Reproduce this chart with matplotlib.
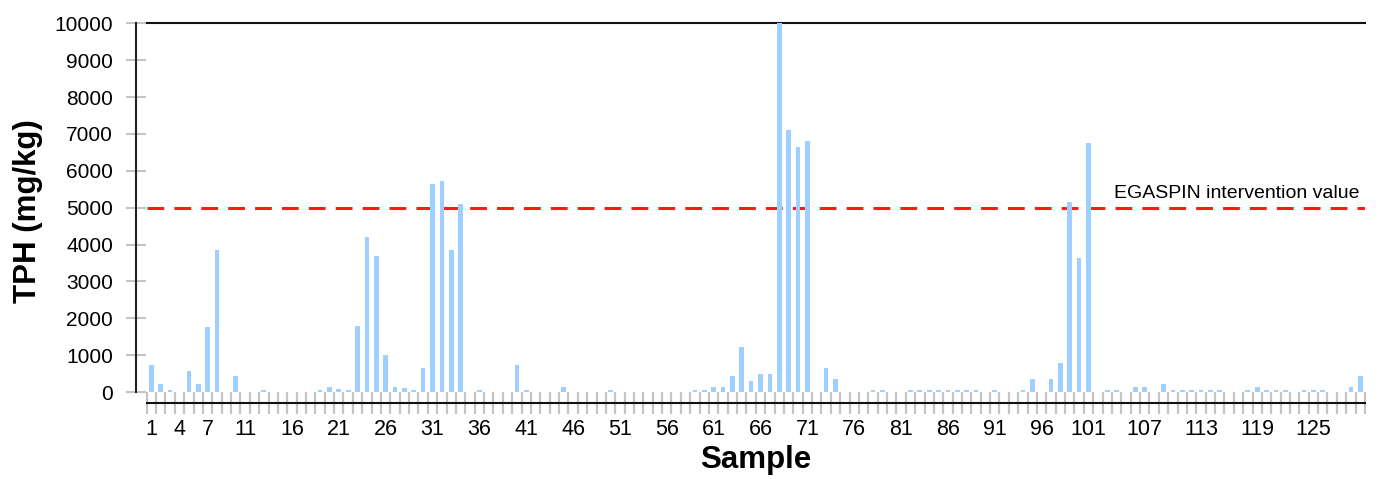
import numpy as np
import matplotlib
matplotlib.use("Agg")
import matplotlib.pyplot as plt
from matplotlib.ticker import FixedLocator

plt.rcParams["font.family"] = ["Liberation Sans", "DejaVu Sans"]

# TPH per sample (mg/kg)
samples = np.arange(1, 131)
tph = [
    720, 220, 60, 0, 580, 220, 1750, 3850, 0, 430,
    0, 0, 60, 0, 0, 0, 0, 0, 60, 130,
    70, 50, 1800, 4200, 3700, 1000, 140, 120, 60, 640,
    5650, 5730, 3850, 5100, 0, 45, 0, 0, 0, 720,
    50, 0, 0, 0, 140, 0, 0, 0, 0, 60,
    0, 0, 0, 0, 0, 0, 0, 0, 60, 60,
    130, 140, 430, 1220, 300, 500, 500, 10000, 7100, 6650,
    6800, 0, 650, 360, 0, 0, 0, 50, 50, 0,
    0, 50, 60, 60, 60, 50, 60, 50, 50, 0,
    50, 0, 0, 60, 350, 0, 350, 790, 5160, 3640,
    6740, 0, 50, 50, 0, 140, 130, 0, 210, 60,
    60, 60, 60, 60, 60, 0, 0, 60, 140, 60,
    50, 50, 0, 60, 50, 50, 0, 0, 140, 430,
]
label_samples = [1, 4, 7, 11, 16, 21, 26, 31, 36, 41, 46, 51, 56, 61, 66,
                 71, 76, 81, 86, 91, 96, 101, 107, 113, 119, 125]
y_ticks = list(range(0, 10001, 1000))
egaspin = 5000

BAR = "#9fcfff"
TICK = "#c4c4c4"

fig = plt.figure(figsize=(13.8, 4.79), dpi=100)
ax = fig.add_axes([0.1063, 0.1816, 0.8828, 0.7698])

ax.bar(samples, tph, width=0.5, color=BAR, zorder=3)
ax.axhline(egaspin, color="#ff1a1a", lw=2.2, dashes=(5.5, 3.3), zorder=2)
ax.text(129.9, egaspin + 160, "EGASPIN intervention value", ha="right",
        va="bottom", fontsize=14, color="#000")

ax.set_xlim(0.5, 130.5)
ax.set_ylim(0, 10000)

ax.spines["right"].set_visible(False)
ax.spines["top"].set_color("#111")
ax.spines["top"].set_linewidth(1.5)
ax.spines["left"].set_position(("outward", 7.5))
ax.spines["left"].set_color("#222")
ax.spines["left"].set_linewidth(1.5)
ax.spines["bottom"].set_position(("outward", 8))
ax.spines["bottom"].set_color("#111")
ax.spines["bottom"].set_linewidth(1.5)

ax.set_yticks(y_ticks)
ax.tick_params(axis="y", direction="inout", length=14.4, width=1.5,
               color=TICK, labelsize=15, pad=9.5)

ax.xaxis.set_major_locator(FixedLocator(label_samples))
ax.xaxis.set_minor_locator(FixedLocator(np.arange(0.5, 131, 1.0)))
ax.tick_params(axis="x", which="major", length=0, labelsize=15.5, pad=11.5)
ax.tick_params(axis="x", which="minor", direction="inout", length=16.5,
               width=1.6, color=TICK)

ax.set_ylabel("TPH (mg/kg)", fontsize=22.5, fontweight="bold")
ax.yaxis.set_label_coords(-0.085, 0.49)
ax.set_xlabel("Sample", fontsize=22.5, fontweight="bold")
ax.xaxis.set_label_coords(0.5, -0.143)

fig.savefig("out.png", dpi=100, facecolor="white")
